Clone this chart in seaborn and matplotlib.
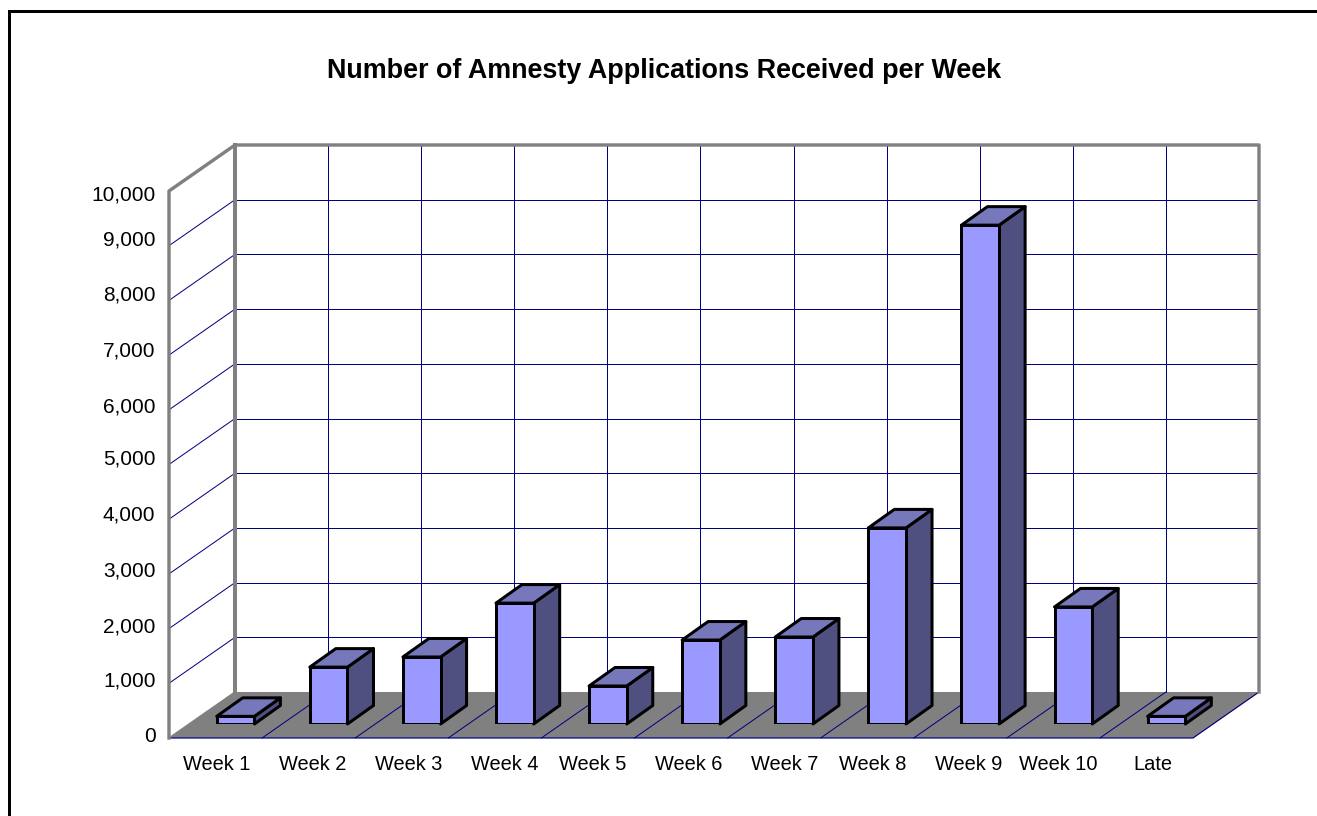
import numpy as np
import pandas as pd
import matplotlib
matplotlib.use("Agg")
import matplotlib.pyplot as plt
from matplotlib.patches import Rectangle
import seaborn as sns

weeks = ["Week 1", "Week 2", "Week 3", "Week 4", "Week 5", "Week 6",
         "Week 7", "Week 8", "Week 9", "Week 10", "Late"]
applications = [140, 1040, 1225, 2210, 695, 1535, 1590, 3585, 9120, 2140, 140]
value_ticks = list(range(0, 10001, 1000))
title = "Number of Amnesty Applications Received per Week"

W, H = 1317, 816
sns.set_theme(style="white")
plt.rcParams["font.family"] = ["Liberation Sans", "DejaVu Sans"]
fig = plt.figure(figsize=(W / 100, H / 100), dpi=100, facecolor="white")
px = 72 / 100  # points per pixel


def axes_px(left, right, bottom, top, z):
    a = fig.add_axes([left / W, 1 - bottom / H, (right - left) / W, (bottom - top) / H], zorder=z)
    a.patch.set_alpha(0)
    for s in a.spines.values():
        s.set_visible(False)
    a.set_xlim(-0.5, 10.5)
    a.set_ylim(0, 10000)
    a.grid(False)
    return a


# outer chart frame runs past the right and bottom edges
fig.add_artist(Rectangle((9 / W, -0.1), 1.1, 1 - 11 / H + 0.1, transform=fig.transFigure,
                         fill=False, edgecolor="black", linewidth=3 * px))

NAVY = "#000080"
GRAY = "#808080"

# ---------- back wall, side wall, floor ----------
wall = axes_px(235, 1259, 692, 145, 1)
wall.set_xticks([])
wall.set_yticks([])
unit_x = 1024 / 11
unit_y = 547 / 10000
ddx, ddy = -66 / unit_x, -46 / unit_y
x0, x1 = -0.5, 10.5
kw = dict(clip_on=False, solid_capstyle="projecting")

wall.fill([x0, x1, x1 + ddx, x0 + ddx], [0, 0, ddy, ddy], color=GRAY, lw=0, clip_on=False, zorder=1)
for v in value_ticks[1:-1]:
    wall.plot([x0, x1], [v, v], color=NAVY, lw=1 * px, clip_on=False, zorder=2)
    wall.plot([x0, x0 + ddx], [v, v + ddy], color=NAVY, lw=1 * px, clip_on=False, zorder=2)
for i in range(1, 11):
    xb = x0 + i
    wall.plot([xb, xb], [0, 10000], color=NAVY, lw=1 * px, clip_on=False, zorder=2)
    wall.plot([xb, xb + ddx], [0, ddy], color=NAVY, lw=1 * px, clip_on=False, zorder=2)
# floor front and right edge
wall.plot([x0 + ddx, x1 + ddx, x1], [ddy, ddy, 0], color=NAVY, lw=1.2 * px, clip_on=False, zorder=3)
# gray frame of the walls
wall.plot([x0 + ddx, x0 + ddx, x0, x1, x1], [ddy, 10000 + ddy, 10000, 10000, 0],
          color=GRAY, lw=3.4 * px, zorder=4, **kw)
wall.plot([x0, x0], [0, 10000], color=GRAY, lw=4 * px, zorder=4, **kw)
wall.plot([x0 + ddx, x0], [ddy, 0], color=GRAY, lw=1.5 * px, clip_on=False, zorder=3)

# ---------- bars ----------
df = pd.DataFrame({"week": weeks, "applications": applications})
FRONT, TOP, SIDE = "#9999FF", "#7777BB", "#4F4F80"
bar_w = 0.405
bar_lw = 3 * px
bars = axes_px(189, 1213, 724, 177, 2)
sns.barplot(data=df, x="week", y="applications", color=FRONT, saturation=1, width=bar_w,
            edgecolor="black", linewidth=bar_lw, ax=bars, zorder=5)
bars.set_xlim(-0.5, 10.5)
bars.set_ylim(0, 10000)
bars.set_xlabel("")
bars.set_ylabel("")
bars.set_xticks([])
bars.set_yticks([])
bdx, bdy = 26 / unit_x, 18.5 / unit_y
for i, v in enumerate(applications):
    l, r = i - bar_w / 2, i + bar_w / 2
    bars.fill([r, r + bdx, r + bdx, r], [0, bdy, v + bdy, v], facecolor=SIDE,
              edgecolor="black", lw=bar_lw, joinstyle="round", clip_on=False, zorder=4)
    bars.fill([l, r, r + bdx, l + bdx], [v, v, v + bdy, v + bdy], facecolor=TOP,
              edgecolor="black", lw=bar_lw, joinstyle="round", clip_on=False, zorder=4)

# ---------- labels ----------
labels = axes_px(170, 1193, 735, 193, 3)
label_nudge = np.array([0, 3, 6, 9, 4, 7, 10, 5, 8, 5, 6]) / 93
labels.set_xticks(np.arange(len(weeks)) + label_nudge)
labels.set_xticklabels(weeks, fontsize=14.4, color="black")
tick_nudge_px = np.array([0, 2, 2, 3, 5, 7, 5, 7, 8, 9, 0])
labels.set_yticks(np.array(value_ticks) + tick_nudge_px * 10000 / 542)
labels.set_yticklabels([f"{v:,}" for v in value_ticks], fontsize=15, color="black")
labels.tick_params(axis="x", length=0, pad=14.5)
labels.tick_params(axis="y", length=0, pad=10.5)

fig.text(664.5 / W, 1 - 70.5 / H, title, ha="center", va="center", fontsize=19.35,
         fontweight="bold", color="black")

fig.savefig("out.png", dpi=100, facecolor="white")
